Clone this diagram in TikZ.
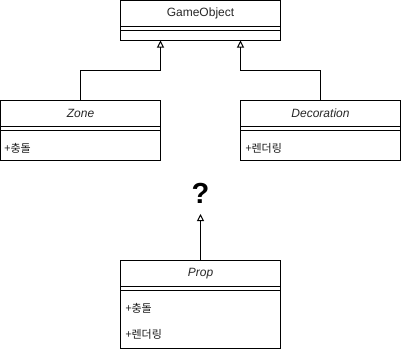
\documentclass[tikz,border=0pt]{standalone}
\usepackage{fontspec}
\setmainfont{Liberation Sans}
\newfontfamily\kr{Noto Sans CJK KR}
\usetikzlibrary{arrows.meta}
\begin{document}
\begin{tikzpicture}[x=1pt,y=-1pt,line width=1pt,
  cls/.style={draw, minimum width=160pt, inner sep=0pt, outer sep=0pt, anchor=north west},
  ttl/.style={font=\fontsize{12}{14}\selectfont, text=black!85, anchor=center},
  fld/.style={font=\kr\fontsize{11}{13}\selectfont, text=black!90, anchor=west, inner sep=0pt},
  inh/.style={-{Triangle[open,length=7pt,width=7pt]}}]
\useasboundingbox (0,0) rectangle (401,351);
% classes
\node[cls, minimum height=40pt] (go) at (120.5,0.5) {};
\node[cls, minimum height=60pt] (zone) at (0.5,100.5) {};
\node[cls, minimum height=60pt] (deco) at (240.5,100.5) {};
\node[cls, minimum height=88pt] (prop) at (120.5,260.5) {};
% header lines and dividers
\foreach \n in {go,zone,deco,prop}{
  \draw ([yshift=-26pt]\n.north west) -- ([yshift=-26pt]\n.north east);
  \draw ([yshift=-30pt]\n.north west) -- ([yshift=-30pt]\n.north east);
}
% titles
\node[ttl] (got) at (200.5,13.5) {GameObject};
\node[ttl, font=\itshape\fontsize{12}{14}\selectfont] (zonet) at (80.5,113.5) {Zone};
\node[ttl, font=\itshape\fontsize{12}{14}\selectfont] (decot) at (320.5,113.5) {Decoration};
\node[ttl, font=\itshape\fontsize{12}{14}\selectfont] (propt) at (200.5,273.5) {Prop};
% fields
\node[fld] (zf1) at (4,148) {+충돌};
\node[fld] (df1) at (245,148) {+렌더링};
\node[fld] (pf1) at (125,308) {+충돌};
\node[fld] (pf2) at (125,334) {+렌더링};
% question mark
\node[font=\bfseries\fontsize{29}{30}\selectfont, inner sep=0pt, outer sep=0pt, anchor=south] (q) at (200.5,203) {?};
% connectors
\draw[inh] (zone.north) -- ++(0,-30) -| ([xshift=-40pt]go.south);
\draw[inh] (deco.north) -- ++(0,-30) -| ([xshift=40pt]go.south);
\draw[inh] (prop.north) -- ([yshift=-11pt]q.south);
\end{tikzpicture}
\end{document}
